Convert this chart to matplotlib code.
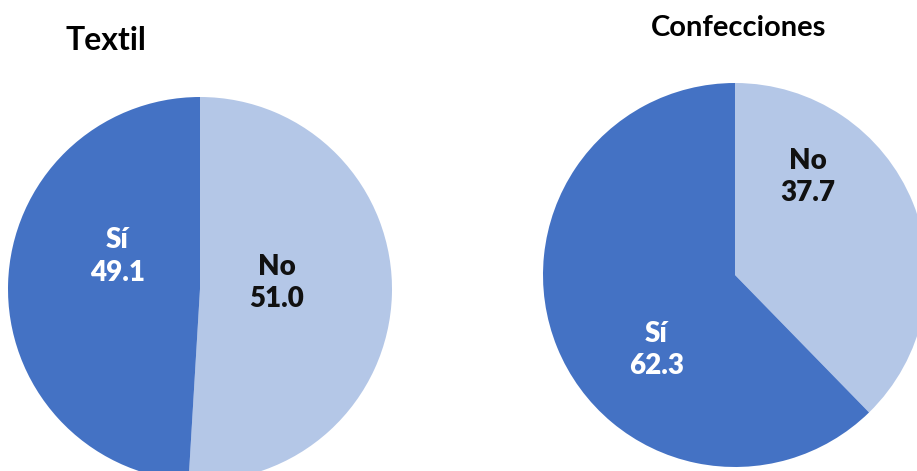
import matplotlib
matplotlib.use("Agg")
import matplotlib.pyplot as plt

plt.rcParams['font.family'] = ['Lato', 'DejaVu Sans']

# data
titles = ["Textil", "Confecciones"]
categories = ["No", "Sí"]
textil = [51.0, 49.1]
confecciones = [37.7, 62.3]

colors = ["#B4C7E7", "#4472C4"]
text_colors = ["#111111", "white"]

W, H = 917, 471
fig = plt.figure(figsize=(W / 100, H / 100), dpi=100)

# pie centres / radius in pixels (from top-left)
centres = [(200, 289), (735, 275)]
R = 192
# label offsets in pie units (No, Sí)
label_pos = [[(0.40, 0.03), (-0.43, 0.17)],
             [(0.38, 0.51), (-0.41, -0.39)]]
title_pos = [(106, 40), (739, 28)]
title_size = [23, 21]

for i, vals in enumerate([textil, confecciones]):
    cx, cy = centres[i]
    ax = fig.add_axes([(cx - R) / W, (H - cy - R) / H, 2 * R / W, 2 * R / H])
    wedges, _ = ax.pie(vals, colors=colors, startangle=90, counterclock=False,
                       radius=1, wedgeprops=dict(linewidth=0))
    for w in wedges:
        w.set_clip_on(False)
    ax.set_xlim(-1, 1)
    ax.set_ylim(-1, 1)
    ax.set_aspect('equal')
    ax.axis('off')
    for j, cat in enumerate(categories):
        x, y = label_pos[i][j]
        ax.text(x, y, f"{cat}\n{vals[j]:.1f}", ha='center', va='center',
                fontsize=20, fontweight='heavy', color=text_colors[j],
                linespacing=1.3)
    tx, ty = title_pos[i]
    fig.text(tx / W, 1 - ty / H, titles[i], ha='center', va='center',
             fontsize=title_size[i], fontweight='bold', color='black')

fig.savefig("out.png", dpi=100)
